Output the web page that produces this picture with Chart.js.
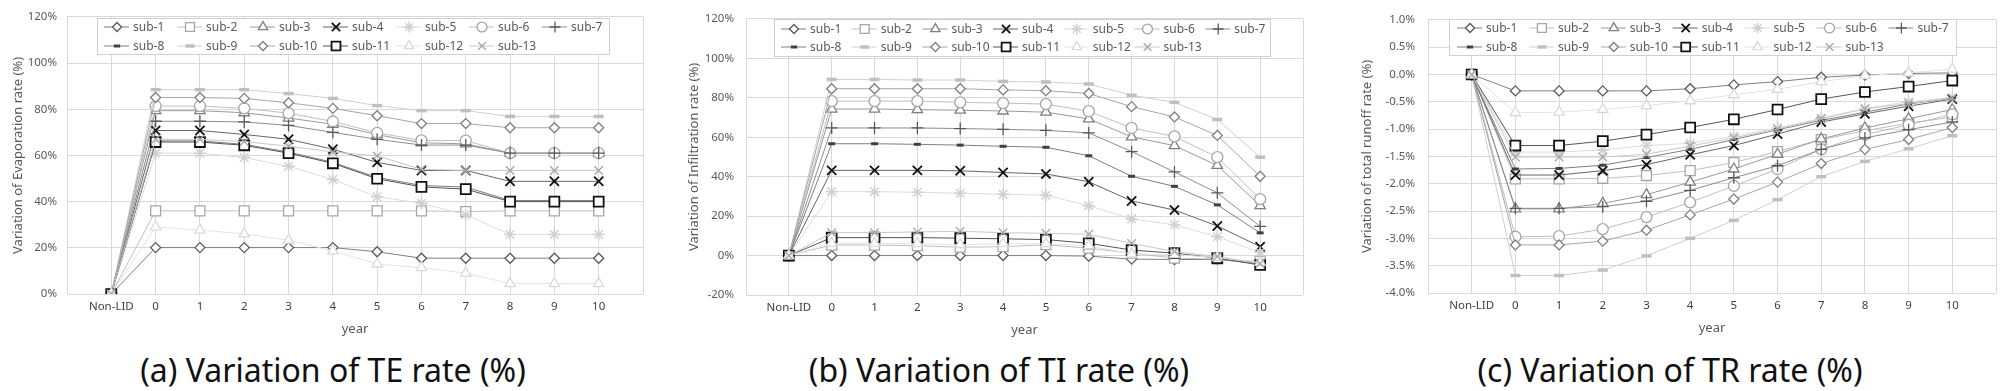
<!DOCTYPE html>
<html>
<head>
<meta charset="utf-8">
<script src="https://cdn.jsdelivr.net/npm/chart.js@4.4.1/dist/chart.umd.min.js"></script>
<style>
  body { margin: 0; background: #fff; width: 2008px; height: 391px; overflow: hidden; position: relative; font-family: 'Noto Sans', sans-serif; }
  .panel { position: absolute; top: 0; height: 391px; }
  .panel canvas { position: absolute; left: 0; top: 0; }
  .cap { position: absolute; left: 0; right: 0; top: 349px; height: 42px; line-height: 42px; text-align: center; font-size: 32px; color: #111; white-space: nowrap; }
</style>
</head>
<body>
<div class="panel" style="left:0;width:666px"><canvas id="chartTE" width="666" height="345"></canvas><div class="cap">(a) Variation of TE rate (%)</div></div>
<div class="panel" style="left:666px;width:666px"><canvas id="chartTI" width="666" height="345"></canvas><div class="cap">(b) Variation of TI rate (%)</div></div>
<div class="panel" style="left:1332px;width:676px"><canvas id="chartTR" width="676" height="345"></canvas><div class="cap">(c) Variation of TR rate (%)</div></div>
<script>
// x categories
const years = ['Non-LID', '0', '1', '2', '3', '4', '5', '6', '7', '8', '9', '10'];
const names = ['sub-1', 'sub-2', 'sub-3', 'sub-4', 'sub-5', 'sub-6', 'sub-7',
               'sub-8', 'sub-9', 'sub-10', 'sub-11', 'sub-12', 'sub-13'];

// (a) evaporation rate variation (%)
const TE_1  = [0, 20.1, 20.1, 20.1, 20.1, 20.1, 18.3, 15.5, 15.5, 15.5, 15.5, 15.5];
const TE_2  = [0, 36, 36, 36, 36, 36, 36, 36, 35.7, 36, 36, 36];
const TE_3  = [0, 79.4, 79.4, 78.5, 76.2, 73.5, 69, 65.5, 65, 61, 61, 61];
const TE_4  = [0, 70.8, 70.8, 69.1, 67, 62.7, 57, 53.5, 53.5, 48.8, 48.8, 48.8];
const TE_5  = [0, 61, 61, 59.1, 55.3, 49.6, 42.1, 39.3, 34.3, 25.8, 25.8, 25.8];
const TE_6  = [0, 81.4, 81.4, 80.4, 78.3, 74.7, 69.8, 66.5, 66.4, 61, 61, 61];
const TE_7  = [0, 74.8, 74.8, 74.5, 73, 70, 67, 64.5, 64.5, 61, 61, 61];
const TE_8  = [0, 66.3, 66.3, 64.8, 61.5, 57, 50.5, 47, 46.3, 40.5, 40.5, 40.5];
const TE_9  = [0, 88.5, 88.5, 88.5, 86.8, 84.7, 81.6, 79.4, 79.4, 76.9, 76.9, 76.9];
const TE_10 = [0, 85.1, 85.1, 84.7, 82.8, 80.4, 77.2, 73.8, 73.8, 72, 72, 72];
const TE_11 = [0, 65.8, 65.8, 64.4, 61, 56.6, 49.9, 46.4, 45.4, 40, 40, 40];
const TE_12 = [0, 29, 27.7, 26, 23.3, 18.7, 13, 11.4, 9, 4.5, 4.5, 4.5];
const TE_13 = [0, 67, 67, 66, 64, 61.5, 59.8, 54, 53.5, 53.5, 53.5, 53.5];

// (b) infiltration rate variation (%)
const TI_1  = [0, 0, 0, 0, 0, 0, 0, -0.3, -1.8, -2, -2, -4];
const TI_2  = [0, 5.3, 5.3, 5, 4.2, 4.5, 5.5, 3.7, 1.2, -1.3, -1.8, -3];
const TI_3  = [0, 74.3, 74.3, 74, 73.7, 73.3, 72.7, 69.3, 60.2, 55.7, 45.7, 25.3];
const TI_4  = [0, 43.2, 43.2, 43.2, 43, 42.1, 41.4, 37.4, 27.7, 23.1, 15, 4.5];
const TI_5  = [0, 32.4, 32.4, 32.1, 31.6, 31.1, 30.6, 25.3, 18.6, 15.6, 9.5, 1.5];
const TI_6  = [0, 78.3, 78.3, 78.3, 77.7, 77.3, 76.8, 73.2, 64.7, 60.4, 49.9, 28.6];
const TI_7  = [0, 64.7, 64.7, 64.7, 64.4, 64, 63.5, 62.2, 52.7, 42.4, 31.8, 14.8];
const TI_8  = [0, 56.7, 56.7, 56.4, 56, 55.4, 54.9, 50.6, 40.2, 35.1, 25.7, 11.5];
const TI_9  = [0, 89.3, 89.3, 89, 89, 88.3, 88, 87, 81.3, 77.7, 69, 49.9];
const TI_10 = [0, 84.6, 84.6, 84.6, 84.6, 84, 83.6, 82.2, 75.5, 70.3, 60.9, 40.2];
const TI_11 = [0, 9.1, 9.1, 9.1, 8.8, 8.5, 8.1, 6.2, 2.8, 1.2, -1.3, -4.8];
const TI_12 = [0, 6.2, 6.2, 6, 5.5, 6, 6, 5, 0.8, 0.5, -1, -3.5];
const TI_13 = [0, 11.6, 11.6, 12, 12.3, 11.6, 11.3, 10.8, 6.2, 2, -0.5, -4];

// (c) total runoff rate variation (%)
const TR_1  = [0, -0.30, -0.30, -0.30, -0.30, -0.26, -0.19, -0.13, -0.05, -0.01, 0.02, 0.03];
const TR_2  = [0, -1.91, -1.91, -1.90, -1.85, -1.76, -1.61, -1.41, -1.19, -1.03, -0.89, -0.78];
const TR_3  = [0, -2.46, -2.46, -2.36, -2.20, -1.97, -1.73, -1.46, -1.18, -0.98, -0.81, -0.64];
const TR_4  = [0, -1.84, -1.84, -1.76, -1.65, -1.47, -1.30, -1.09, -0.87, -0.72, -0.58, -0.45];
const TR_5  = [0, -1.42, -1.42, -1.38, -1.30, -1.26, -1.13, -0.98, -0.80, -0.62, -0.50, -0.42];
const TR_6  = [0, -2.97, -2.96, -2.83, -2.61, -2.34, -2.04, -1.73, -1.37, -1.10, -0.92, -0.73];
const TR_7  = [0, -2.45, -2.45, -2.42, -2.32, -2.12, -1.89, -1.67, -1.37, -1.16, -1.01, -0.87];
const TR_8  = [0, -1.73, -1.72, -1.66, -1.52, -1.37, -1.19, -1.01, -0.84, -0.69, -0.54, -0.43];
const TR_9  = [0, -3.68, -3.68, -3.58, -3.32, -3.00, -2.67, -2.29, -1.87, -1.59, -1.36, -1.12];
const TR_10 = [0, -3.12, -3.12, -3.05, -2.85, -2.57, -2.28, -1.97, -1.63, -1.37, -1.19, -0.97];
const TR_11 = [0, -1.30, -1.30, -1.22, -1.10, -0.97, -0.82, -0.64, -0.45, -0.32, -0.22, -0.11];
const TR_12 = [0, -0.70, -0.69, -0.64, -0.57, -0.48, -0.37, -0.27, -0.13, -0.02, 0.03, 0.10];
const TR_13 = [0, -1.51, -1.51, -1.51, -1.46, -1.31, -1.16, -1.00, -0.81, -0.63, -0.53, -0.43];

const teSeries = [TE_1, TE_2, TE_3, TE_4, TE_5, TE_6, TE_7, TE_8, TE_9, TE_10, TE_11, TE_12, TE_13];
const tiSeries = [TI_1, TI_2, TI_3, TI_4, TI_5, TI_6, TI_7, TI_8, TI_9, TI_10, TI_11, TI_12, TI_13];
const trSeries = [TR_1, TR_2, TR_3, TR_4, TR_5, TR_6, TR_7, TR_8, TR_9, TR_10, TR_11, TR_12, TR_13];

// marker / line look of each sub-basin (same in all three charts)
const looks = [
  { c: '#595959', line: '#7f7f7f', s: 'rectRot',  r: 5,   bw: 1.3 },
  { c: '#a6a6a6', line: '#bfbfbf', s: 'rect',     r: 7,   bw: 1.3 },
  { c: '#7f7f7f', line: '#999999', s: 'triangle', r: 6,   bw: 1.3 },
  { c: '#111111', line: '#666666', s: 'crossRot', r: 6.5, bw: 1.8 },
  { c: '#d0d0d0', line: '#dddddd', s: 'star',     r: 6,   bw: 1.5 },
  { c: '#a6a6a6', line: '#bfbfbf', s: 'circle',   r: 5.5, bw: 1.3 },
  { c: '#595959', line: '#8c8c8c', s: 'cross',    r: 6,   bw: 1.3 },
  { c: '#404040', line: '#7f7f7f', s: 'line',     r: 3.5, bw: 3 },
  { c: '#bfbfbf', line: '#d0d0d0', s: 'line',     r: 5,   bw: 3.5 },
  { c: '#7f7f7f', line: '#a6a6a6', s: 'rectRot',  r: 5,   bw: 1.3 },
  { c: '#111111', line: '#555555', s: 'rect',     r: 7,   bw: 1.8 },
  { c: '#d9d9d9', line: '#e3e3e3', s: 'triangle', r: 6,   bw: 1.3 },
  { c: '#a6a6a6', line: '#c8c8c8', s: 'crossRot', r: 6,   bw: 1.3 }
];

Chart.defaults.font.family = "'Noto Sans', sans-serif";
Chart.defaults.font.size = 11.5;
Chart.defaults.color = '#595959';

// legend drawn as a framed box inside the plot, 7 entries per row
const boxLegend = {
  id: 'boxLegend',
  afterDraw(chart, args, o) {
    const ctx = chart.ctx;
    ctx.save();
    ctx.fillStyle = '#fff';
    ctx.strokeStyle = '#d0d0d0';
    ctx.lineWidth = 1;
    ctx.fillRect(o.x + 0.5, o.y + 0.5, o.w, o.h);
    ctx.strokeRect(o.x + 0.5, o.y + 0.5, o.w, o.h);
    chart.data.datasets.forEach((ds, i) => {
      const cx = o.x0 + (i % 7) * o.dx;
      const cy = o.rows[Math.floor(i / 7)];
      ctx.strokeStyle = ds.borderColor;
      ctx.lineWidth = 1;
      ctx.beginPath();
      ctx.moveTo(cx - 13, cy);
      ctx.lineTo(cx + 12, cy);
      ctx.stroke();
      ctx.strokeStyle = ds.pointBorderColor;
      ctx.fillStyle = '#fff';
      ctx.lineWidth = ds.pointBorderWidth;
      Chart.helpers.drawPoint(ctx, {
        pointStyle: ds.pointStyle, radius: ds.pointRadius * 0.9,
        rotation: 0, borderWidth: ds.pointBorderWidth
      }, cx, cy);
      ctx.fillStyle = '#595959';
      ctx.font = "12px 'Noto Sans', sans-serif";
      ctx.textAlign = 'left';
      ctx.textBaseline = 'middle';
      ctx.fillText(ds.label, cx + 16, cy + 1);
    });
    ctx.restore();
  }
};

function makeChart(id, series, yTitle, yScale, box, legend) {
  const H = 345;
  const datasets = series.map((arr, i) => ({
    label: names[i],
    data: arr.map((v, k) => ({ x: k, y: v })),
    borderColor: looks[i].line,
    borderWidth: 1,
    pointStyle: looks[i].s,
    pointRadius: looks[i].r,
    pointBorderColor: looks[i].c,
    pointBackgroundColor: '#fff',
    pointBorderWidth: looks[i].bw,
    order: 13 - i
  }));

  return new Chart(document.getElementById(id), {
    type: 'line',
    data: { datasets: datasets },
    plugins: [boxLegend],
    options: {
      responsive: false,
      animation: false,
      layout: { padding: { left: 0, top: box.top, right: box.W - box.right, bottom: 0 } },
      plugins: {
        legend: { display: false },
        tooltip: { enabled: false },
        boxLegend: legend
      },
      scales: {
        x: {
          type: 'linear',
          min: -1,
          max: 12,
          afterFit: s => { s.height = H - box.bottom; },
          grid: { color: '#d9d9d9', drawTicks: false },
          border: { display: false },
          ticks: {
            stepSize: 1,
            autoSkip: false,
            maxRotation: 0,
            padding: 6,
            color: '#404040',
            callback: v => (years[v] !== undefined ? years[v] : '')
          },
          title: { display: true, text: 'year', color: '#595959', font: { size: 13 },
                   padding: { top: 0, bottom: H - 7.8 - (box.bottom + 35) } }
        },
        y: {
          min: yScale.min,
          max: yScale.max,
          afterFit: s => { s.width = box.left; },
          grid: { color: '#d9d9d9', drawTicks: false },
          border: { display: false },
          ticks: { stepSize: yScale.step, padding: box.gap, callback: yScale.fmt },
          title: { display: true, text: yTitle, color: '#595959', font: { size: 13 },
                   padding: { top: box.titleX - 7.8, bottom: 0 } }
        }
      }
    }
  });
}

makeChart('chartTE', teSeries, 'Variation of Evaporation rate (%)',
  { min: 0, max: 120, step: 20, fmt: v => v + '%' },
  { W: 666, left: 67, right: 643, top: 12, bottom: 294, titleX: 18, gap: 10 },
  { x: 97, y: 18, w: 512, h: 36, x0: 117, dx: 73, rows: [27, 46] });

makeChart('chartTI', tiSeries, 'Variation of Infiltration rate (%)',
  { min: -20, max: 120, step: 20, fmt: v => v + '%' },
  { W: 666, left: 80, right: 637, top: 14, bottom: 295, titleX: 28, gap: 12 },
  { x: 108, y: 19, w: 496, h: 37, x0: 128, dx: 70.7, rows: [29, 47] });

makeChart('chartTR', trSeries, 'Variation of total runoff rate (%)',
  { min: -4, max: 1, step: 0.5, fmt: v => v.toFixed(1) + '%' },
  { W: 676, left: 96, right: 664, top: 14, bottom: 293, titleX: 35, gap: 13 },
  { x: 117, y: 19, w: 507, h: 36, x0: 138, dx: 71.9, rows: [28, 47] });
</script>
</body>
</html>
